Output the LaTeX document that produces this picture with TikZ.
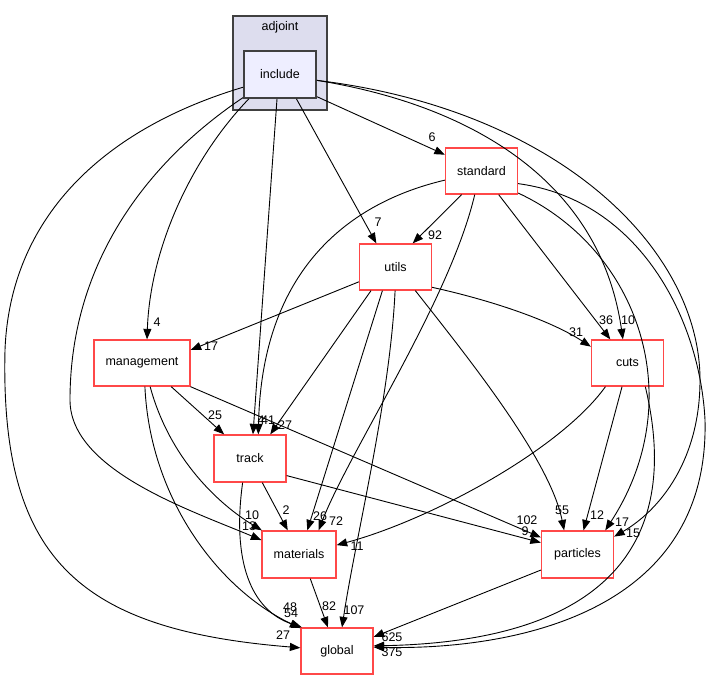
\documentclass[tikz,border=0pt]{standalone}
\usepackage{fontspec}
\setmainfont{Liberation Sans}
\usetikzlibrary{arrows.meta}
\definecolor{dirRed}{HTML}{FF4848}
\definecolor{dirGrey}{HTML}{404040}
\definecolor{clusterFill}{HTML}{DDDDEE}
\definecolor{incFill}{HTML}{EEEEFF}

\tikzset{
  dirbox/.style={draw=dirRed, line width=1.3pt, fill=white, minimum width=72pt, minimum height=46pt, inner sep=0pt, font=\fontsize{12.5}{14}\selectfont},
  dep/.style={-{Triangle[length=10.5pt,width=8pt]}, line width=0.9pt},
  cnt/.style={font=\fontsize{12.5}{14}\selectfont, inner sep=0pt}
}

\begin{document}
\begin{tikzpicture}[x=1pt, y=-1pt]
            \useasboundingbox (0,0) rectangle (714,681);
            \node[draw=dirGrey, line width=1.2pt, fill=clusterFill, minimum width=94pt, minimum height=94pt] (adjoint) at (280,63) {};
            \node[cnt] (adjointLbl) at (280,27) {adjoint};
            \node[dirbox, draw=dirGrey, line width=1.8pt, fill=incFill, minimum height=47pt] (inc) at (280,74.5) {include};
            \node[dirbox] (std) at (481.5,171) {standard};
            \node[dirbox] (utl) at (395.5,267) {utils};
            \node[dirbox, minimum width=96pt] (mgt) at (142,363) {management};
            \node[dirbox] (cut) at (627.5,363) {cuts};
            \node[dirbox, minimum height=47pt] (trk) at (250,458.5) {track};
            \node[dirbox, minimum width=74pt, minimum height=47pt] (mat) at (299,554.5) {materials};
            \node[dirbox, minimum height=47pt] (prt) at (577.5,554.5) {particles};
            \node[dirbox] (glb) at (337,651) {global};

            \draw[dep] (inc.-31) -- (std.156);
            \draw[dep] (inc.-56) -- (utl.129);
            \draw[dep] (inc.-97) -- (trk.83);
            \draw[dep] (inc.-142) .. controls (190,160) and (150,250) .. (mgt.78);
            \draw[dep] (inc.-148) .. controls (150,160) and (70,260) .. (70,400) .. controls (70,470) and (190,510) .. (mat.159);
            \draw[dep] (inc.-161) .. controls (100,130) and (10,220) .. (5,350) .. controls (0,560) and (80,630) .. (glb.175);
            \draw[dep] (inc.-9) .. controls (470,105) and (600,180) .. (cut.101);
            \draw[dep] (inc.-9) .. controls (560,110) and (700,250) .. (700,380) .. controls (700,460) and (660,510) .. (prt.26);

            \draw[dep] (std.-130) -- (utl.54);
            \draw[dep] (std.194) .. controls (360,200) and (262,260) .. (trk.71);
            \draw[dep] (std.-106) .. controls (450,300) and (350,450) .. (mat.51);
            \draw[dep] (std.-54) -- (cut.126);
            \draw[dep] (std.-31) .. controls (640,250) and (690,400) .. (prt.41);
            \draw[dep] (std.-19) .. controls (640,200) and (700,320) .. (705,420) .. controls (710,620) and (500,650) .. (glb.6);

            \draw[dep] (utl.-158) -- (mgt.15);
            \draw[dep] (utl.-136) -- (trk.50);
            \draw[dep] (utl.-119) -- (mat.71);
            \draw[dep] (utl.-91) .. controls (390,400) and (355,540) .. (glb.78);
            \draw[dep] (utl.-50) .. controls (470,360) and (550,460) .. (prt.119);
            \draw[dep] (utl.-29) .. controls (490,300) and (550,320) .. (cut.156);

            \draw[dep] (mgt.-39) -- (trk.137);
            \draw[dep] (mgt.-26) -- (prt.155);
            \draw[dep] (mgt.-71) .. controls (170,460) and (220,505) .. (mat.147);
            \draw[dep] (mgt.-83) .. controls (150,500) and (220,590) .. (glb.148);

            \draw[dep] (cut.-103) -- (prt.76);
            \draw[dep] (cut.-133) .. controls (560,450) and (430,520) .. (mat.14);
            \draw[dep] (cut.-53) .. controls (665,470) and (680,640) .. (glb.8);

            \draw[dep] (trk.-63) -- (mat.115);
            \draw[dep] (trk.-25) -- (prt.162);
            \draw[dep] (trk.-107) .. controls (232,560) and (250,610) .. (glb.146);

            \draw[dep] (mat.-65) -- (glb.111);
            \draw[dep] (prt.-157) -- (glb.21);

            \node[cnt] (n6) at (432,137) {6};
            \node[cnt] (n7) at (378,222) {7};
            \node[cnt] (n92) at (435,235) {92};
            \node[cnt] (n4) at (157,322) {4};
            \node[cnt] (n17a) at (211,346) {17};
            \node[cnt] (n25) at (215,415) {25};
            \node[cnt] (n4b) at (261,420) {4};
            \node[cnt] (n41) at (268,420) {41};
            \node[cnt] (n27a) at (285,425) {27};
            \node[cnt] (n31) at (576,332) {31};
            \node[cnt] (n36) at (606,320) {36};
            \node[cnt] (n10a) at (628,320) {10};
            \node[cnt] (n2) at (286,510) {2};
            \node[cnt] (n10b) at (252,515) {10};
            \node[cnt] (n13) at (249,526) {13};
            \node[cnt] (n26) at (320,516) {26};
            \node[cnt] (n72) at (336,521) {72};
            \node[cnt] (n11) at (357,546) {11};
            \node[cnt] (n55) at (562,510) {55};
            \node[cnt] (n12) at (597,515) {12};
            \node[cnt] (n17b) at (622,522) {17};
            \node[cnt] (n15) at (633,533) {15};
            \node[cnt] (n102) at (527,520) {102};
            \node[cnt] (n9) at (525,531) {9};
            \node[cnt] (n82) at (329,606) {82};
            \node[cnt] (n107) at (354,610) {107};
            \node[cnt] (n48) at (290,607) {48};
            \node[cnt] (n54) at (291,613) {54};
            \node[cnt] (n27b) at (283,635) {27};
            \node[cnt] (n625) at (392,637) {625};
            \node[cnt] (n375) at (392,652) {375};
\end{tikzpicture}
\end{document}
